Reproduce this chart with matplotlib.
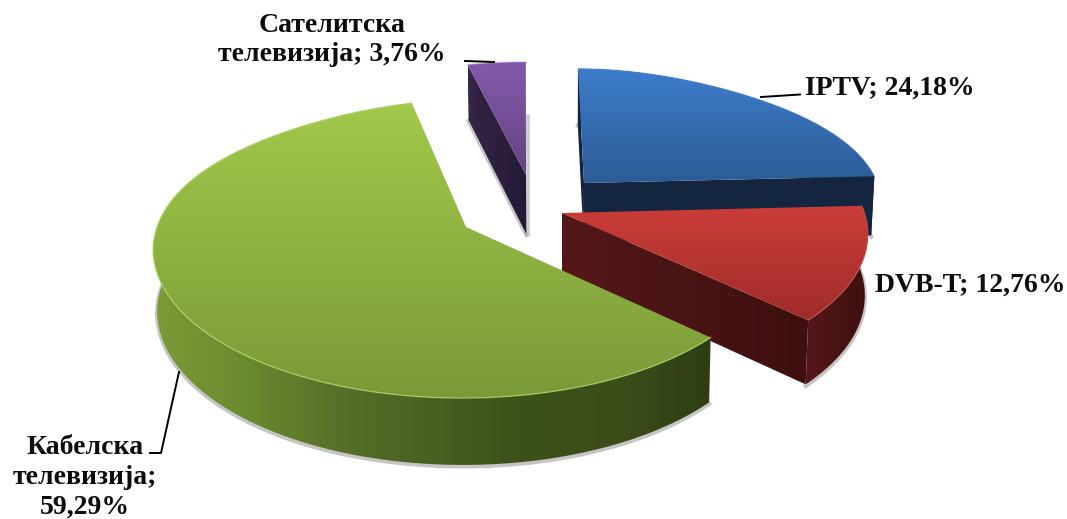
import numpy as np
import matplotlib
matplotlib.use("Agg")
import matplotlib.pyplot as plt
from matplotlib.colors import LinearSegmentedColormap
from matplotlib.patches import Polygon

categories = ["IPTV", "DVB-T", "Кабелска\nтелевизија", "Сателитска\nтелевизија"]
values = [24.18, 12.76, 59.29, 3.76]

# perspectiva da elipse
E = 0.148
A = 309
B = 149
DEPTH = 61
VX = 560

# apice, escala e inclinacao de cada fatia (pixels)
apex = [(584, 183), (562, 213), (466, 227), (526, 175)]
scale = [(0.96, 0.90), (0.99, 0.97), (1.0, 1.0), (1.08, 0.89)]
shear = [0.053, 0.0, 0.0, 0.0]

top_cols = [["#3e7dcc", "#2c5c96"], ["#cb3d39", "#9f2c2a"],
            ["#a1c94b", "#7a9a38"], ["#8459ad", "#63447f"]]
wall_cols = [["#14263f", "#14263f"], ["#55181a", "#3e0f0e"],
             ["#7c9c38", "#6a8a2e", "#56702a", "#4a6020", "#3c5119", "#3d4d1a", "#2f3d14"],
             ["#352548", "#241a35"]]
rim_cols = ["#4f8bd6", "#d9605a", "#b4d868", "#9a78bd"]
rim_alpha = [0.4, 0.5, 0.7, 0.4]


def project(theta, i):
    # angulo real (horario a partir do topo) -> pixel
    x, y = np.sin(theta), np.cos(theta)
    xp = x * np.sqrt(1 - E**2) / (1 + E * y)
    yp = (y + E) / (1 + E * y)
    xp = xp * (1 - 0.15 * np.clip(yp, 0, 1)**4)
    sx, sy = scale[i]
    dy = -B * sy * (yp - E)
    return apex[i][0] - 4 * (i == 2) * (1 - np.clip(yp, 0, 1)) + A * sx * xp + shear[i] * dy, apex[i][1] + dy


def drop(x, y):
    # extrusao para baixo
    return VX + (x - VX) * 0.99, y + DEPTH + (y - 230) * 0.035


def grad_fill(ax, xs, ys, cols, vertical=True, zorder=1):
    verts = np.column_stack([xs, ys])
    cmap = LinearSegmentedColormap.from_list("g", cols)
    g = np.linspace(0, 1, 256)
    g = g[:, None] if vertical else g[None, :]
    im = ax.imshow(g, cmap=cmap, aspect="auto", zorder=zorder, interpolation="bilinear",
                   extent=[xs.min(), xs.max(), ys.max(), ys.min()], origin="upper")
    clip = Polygon(verts, closed=True, transform=ax.transData, fc="none", ec="none")
    ax.add_patch(clip)
    im.set_clip_path(clip)


fig = plt.figure(figsize=(10.67, 5.19), dpi=100)
ax = fig.add_axes([0, 0, 1, 1])

bounds = np.radians(np.concatenate([[0], np.cumsum(values) * 3.6]))

# ordem de desenho: de tras para frente
for z, i in enumerate([3, 0, 1, 2]):
    t = np.linspace(bounds[i], bounds[i + 1], 200)
    ax_x, ax_y = apex[i]
    ox, oy = project(t, i)
    bx, by = drop(ox, oy)
    abx, aby = drop(ax_x, ax_y)
    zb = 10 * (z + 1)

    # sombra
    if i != 3:
        ax.plot(bx, by + 1.5, color="#808080", alpha=0.45, lw=3, zorder=zb)
    else:
        ax.plot([bx[0], abx], [by[0] + 1, aby + 1], color="#808080", alpha=0.45, lw=3, zorder=zb)
        ax.plot([abx + 2, abx + 2], [aby, oy[-1] + 55], color="#a0a0a0", alpha=0.5, lw=3, zorder=zb)

    # parede externa
    if i != 3:
        wx = np.concatenate([ox, bx[::-1]])
        wy = np.concatenate([oy, by[::-1]])
        grad_fill(ax, wx, wy, wall_cols[i], vertical=False, zorder=zb + 1)

    # paredes radiais visiveis
    if i == 0:
        for k, c in [(0, "#12233b"), (-1, "#14263f")]:
            ax.fill([ax_x, ox[k], bx[k], abx], [ax_y, oy[k], by[k], aby], color=c, lw=0, zorder=zb + 2)
    if i == 1:
        wx = np.array([ax_x, ox[-1], bx[-1], abx])
        wy = np.array([ax_y, oy[-1], by[-1], aby])
        grad_fill(ax, wx, wy, wall_cols[i], vertical=False, zorder=zb + 2)
    if i == 3:
        wx = np.array([ax_x, ox[0], bx[0], abx])
        wy = np.array([ax_y, oy[0], by[0], aby])
        grad_fill(ax, wx, wy, wall_cols[i], vertical=False, zorder=zb + 2)

    # face de cima
    tx = np.concatenate([[ax_x], ox])
    ty = np.concatenate([[ax_y], oy])
    grad_fill(ax, tx, ty, top_cols[i], vertical=True, zorder=zb + 3)
    ax.plot(ox, oy, color=rim_cols[i], lw=1, alpha=rim_alpha[i], zorder=zb + 4)

ax.set_xlim(0, 1067)
ax.set_ylim(519, 0)
ax.axis("off")

# linhas de chamada
ax.plot([761, 800], [97, 94.5], color="black", lw=1.4, zorder=60)
ax.plot([465, 494], [61, 62], color="black", lw=1.4, zorder=60)
ax.plot([179, 161, 150], [372, 453, 453], color="black", lw=1.4, zorder=60)

pct = [f"{v:.2f}".replace(".", ",") + "%" for v in values]
font = dict(family="Liberation Serif", fontweight="bold", fontsize=20, color="#0d0d0d", zorder=70,
            linespacing=1.26)
ax.text(805, 88, f"{categories[0]}; {pct[0]}", ha="left", va="center", **font)
ax.text(875, 285, f"{categories[1]}; {pct[1]}", ha="left", va="center", **font)
ax.text(85, 477, f"{categories[2]};\n{pct[2]}", ha="center", va="center", **font)
ax.text(332, 40, f"{categories[3]}; {pct[3]}", ha="center", va="center", **font)

fig.savefig("out.png", dpi=100)
